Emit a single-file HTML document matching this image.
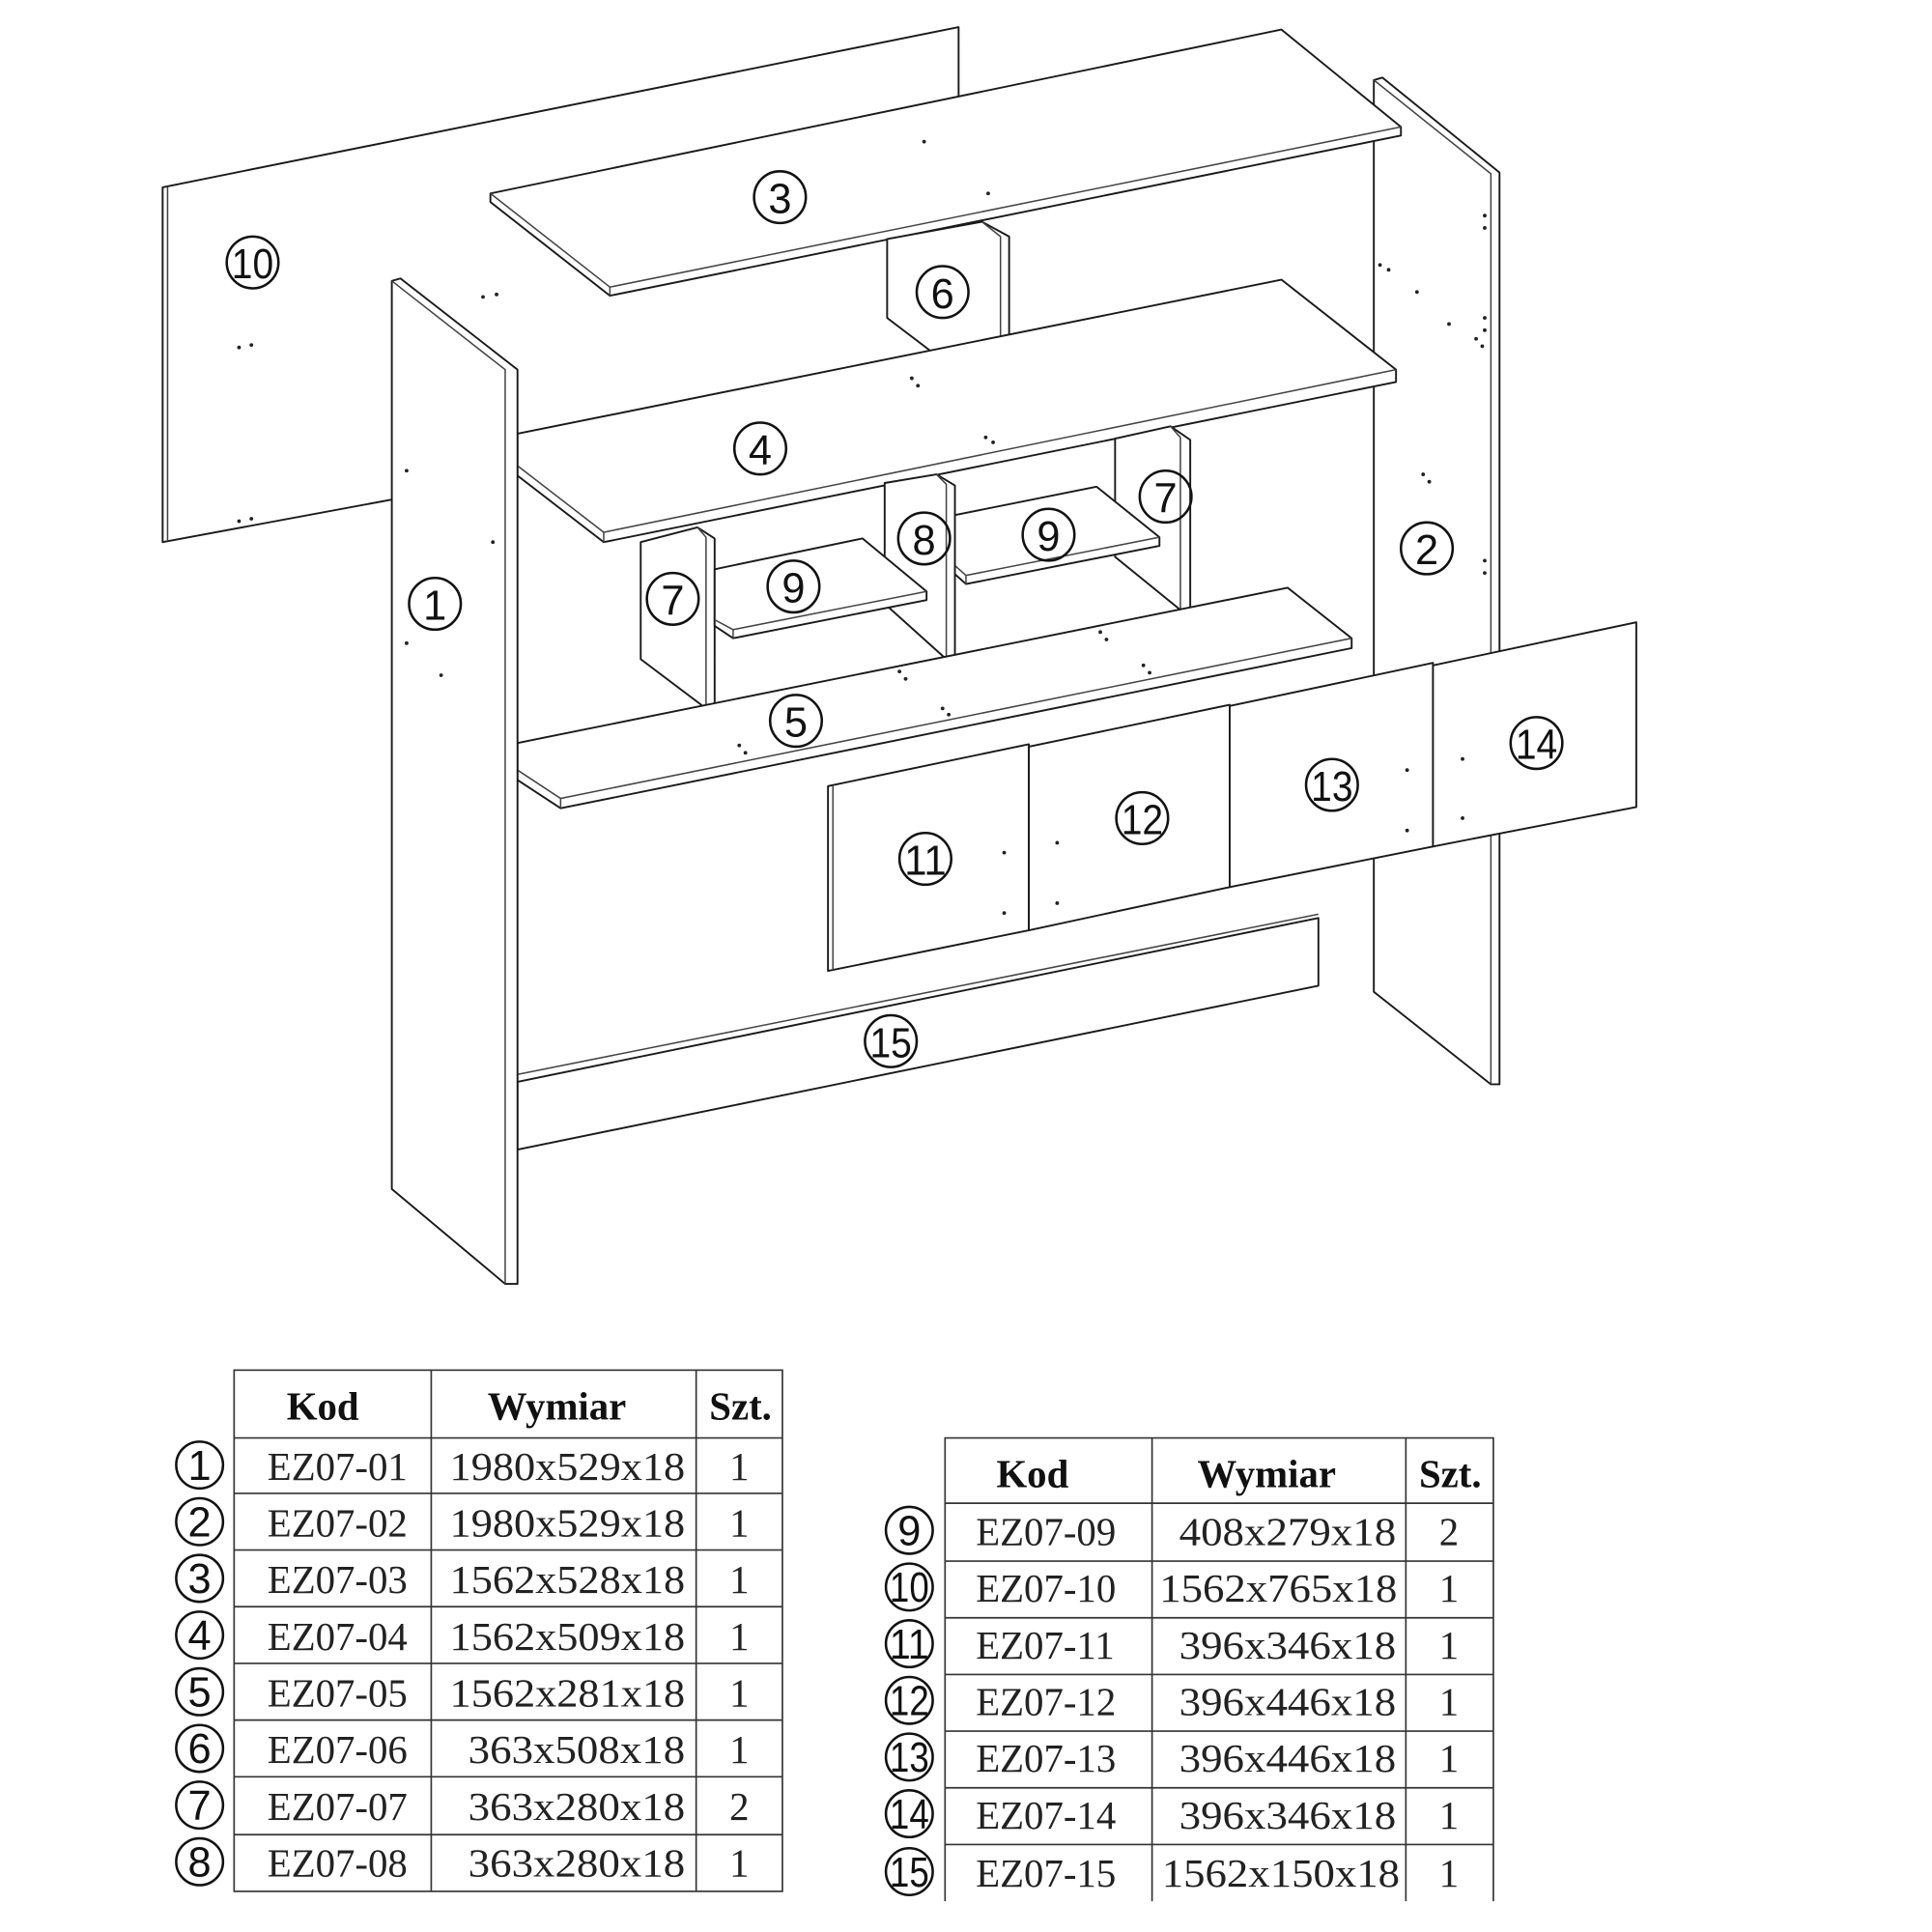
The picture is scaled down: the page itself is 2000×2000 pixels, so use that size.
<!DOCTYPE html>
<html><head><meta charset="utf-8"><style>
html,body{margin:0;padding:0;background:#fff;}
svg{display:block;}
.p{fill:#fff;stroke:#1a1a1a;stroke-width:1.5;stroke-linejoin:round;}
.c{fill:none;stroke:#111;stroke-width:2;}
.n{font-family:"Liberation Sans",sans-serif;font-size:34px;fill:#111;text-anchor:middle;}
.t{font-family:"Liberation Serif",serif;font-size:32px;fill:#222;}
.h{font-family:"Liberation Serif",serif;font-size:32px;font-weight:bold;fill:#111;text-anchor:middle;}
.g{stroke:#444;stroke-width:1.2;fill:none;}
.d{fill:#222;}
</style></head><body>
<svg width="2000" height="2000" viewBox="0 0 1568 1568" preserveAspectRatio="none" xmlns="http://www.w3.org/2000/svg">
<polygon class="p" points="132,152 778,22 778,320 132,440"/>
<line class="g" x1="136" y1="152" x2="136" y2="439"/>
<polygon class="p" points="1115,65 1122,63 1217,140 1217,880 1210,880 1115,805"/>
<polyline class="g" points="1115,65 1210,141 1210,880"/>
<polygon class="p" points="398,157 1040,24 1137,103 1137,110 495,240 398,164"/>
<polyline class="g" points="398,157 495,233 1137,103"/>
<line class="g" x1="495" y1="233" x2="495" y2="240"/>
<polygon class="p" points="720,194 797,180 819,192 819,330 812,328 720,258"/>
<polyline class="g" points="797,180 812,192 812,328"/>
<polygon class="p" points="420,352 1040,227 1133,300 1133,310 490,440 420,386"/>
<polyline class="g" points="420,378 490,432 1133,300"/>
<line class="g" x1="490" y1="432" x2="490" y2="440"/>
<polygon class="p" points="905,356 950,346 966,357 966,495 958,495 905,452"/>
<polyline class="g" points="950,346 958,355 958,495"/>
<polygon class="p" points="775,418 890,395 941,436 941,443 784,474 775,466"/>
<polyline class="g" points="775,459 784,467 941,436"/>
<line class="g" x1="784" y1="467" x2="784" y2="474"/>
<polygon class="p" points="520,440 566,428 580,437 580,575 573,575 520,535"/>
<polyline class="g" points="566,428 573,436 573,575"/>
<polygon class="p" points="718,392 760,385 775,394 775,535 768,535 718,490"/>
<polyline class="g" points="760,385 768,393 768,535"/>
<polygon class="p" points="580,462 700,437 752,480 752,487 595,518 580,508"/>
<polyline class="g" points="580,503 595,511 752,480"/>
<line class="g" x1="595" y1="511" x2="595" y2="518"/>
<polygon class="p" points="420,603 1045,477 1097,518 1097,526 455,656 420,633"/>
<polyline class="g" points="420,625 455,648 1097,518"/>
<line class="g" x1="455" y1="648" x2="455" y2="656"/>
<polygon class="p" points="672,638 835,604 835,755 672,788"/>
<line class="g" x1="676" y1="638" x2="676" y2="787"/>
<polygon class="p" points="835,606 998,572 998,720 835,755"/>
<polygon class="p" points="998,573 1163,538 1163,687 998,720"/>
<polygon class="p" points="1163,540 1328,505 1328,655 1163,687"/>
<polygon class="p" points="420,878 1070,745 1070,800 420,933"/>
<line class="g" x1="420" y1="872" x2="1070" y2="742"/>
<polygon class="p" points="318,228 325,226 420,300 420,1042 410,1042 318,965"/>
<polyline class="g" points="318,228 410,300 410,1042"/>
<g class="d">
<circle cx="194" cy="282" r="1.5"/><circle cx="204" cy="280" r="1.5"/>
<circle cx="194" cy="423" r="1.5"/><circle cx="204" cy="421" r="1.5"/>
<circle cx="392" cy="241" r="1.5"/><circle cx="403" cy="239" r="1.5"/>
<circle cx="330" cy="382" r="1.5"/><circle cx="400" cy="440" r="1.5"/>
<circle cx="330" cy="522" r="1.5"/><circle cx="358" cy="548" r="1.5"/>
<circle cx="750" cy="115" r="1.5"/><circle cx="802" cy="157" r="1.5"/>
<circle cx="740" cy="307" r="1.5"/><circle cx="745" cy="313" r="1.5"/>
<circle cx="800" cy="355" r="1.5"/><circle cx="806" cy="359" r="1.5"/>
<circle cx="730" cy="545" r="1.5"/><circle cx="735" cy="551" r="1.5"/>
<circle cx="765" cy="575" r="1.5"/><circle cx="770" cy="580" r="1.5"/>
<circle cx="600" cy="605" r="1.5"/><circle cx="605" cy="611" r="1.5"/>
<circle cx="893" cy="513" r="1.5"/><circle cx="898" cy="519" r="1.5"/>
<circle cx="928" cy="540" r="1.5"/><circle cx="933" cy="546" r="1.5"/>
<circle cx="815" cy="692" r="1.5"/><circle cx="815" cy="741" r="1.5"/>
<circle cx="858" cy="684" r="1.5"/><circle cx="858" cy="733" r="1.5"/>
<circle cx="1142" cy="625" r="1.5"/><circle cx="1142" cy="674" r="1.5"/>
<circle cx="1187" cy="616" r="1.5"/><circle cx="1187" cy="664" r="1.5"/>
<circle cx="1205" cy="175" r="1.5"/><circle cx="1205" cy="185" r="1.5"/>
<circle cx="1120" cy="215" r="1.5"/><circle cx="1127" cy="219" r="1.5"/>
<circle cx="1150" cy="237" r="1.5"/><circle cx="1176" cy="263" r="1.5"/>
<circle cx="1205" cy="258" r="1.5"/><circle cx="1205" cy="268" r="1.5"/>
<circle cx="1198" cy="275" r="1.5"/><circle cx="1203" cy="281" r="1.5"/>
<circle cx="1155" cy="385" r="1.5"/><circle cx="1160" cy="391" r="1.5"/>
<circle cx="1205" cy="455" r="1.5"/><circle cx="1205" cy="465" r="1.5"/>
</g>
<g>
<circle class="c" cx="205" cy="213" r="21"/><text class="n" x="205" y="226" textLength="34" lengthAdjust="spacingAndGlyphs">10</text>
<circle class="c" cx="633" cy="160" r="21"/><text class="n" x="633" y="173">3</text>
<circle class="c" cx="765" cy="237" r="21"/><text class="n" x="765" y="250">6</text>
<circle class="c" cx="617" cy="364" r="21"/><text class="n" x="617" y="377">4</text>
<circle class="c" cx="353" cy="490" r="21"/><text class="n" x="353" y="503">1</text>
<circle class="c" cx="546" cy="486" r="21"/><text class="n" x="546" y="499">7</text>
<circle class="c" cx="644" cy="476" r="21"/><text class="n" x="644" y="489">9</text>
<circle class="c" cx="750" cy="437" r="21"/><text class="n" x="750" y="450">8</text>
<circle class="c" cx="851" cy="434" r="21"/><text class="n" x="851" y="447">9</text>
<circle class="c" cx="946" cy="403" r="21"/><text class="n" x="946" y="416">7</text>
<circle class="c" cx="1158" cy="445" r="21"/><text class="n" x="1158" y="458">2</text>
<circle class="c" cx="646" cy="585" r="21"/><text class="n" x="646" y="598">5</text>
<circle class="c" cx="751" cy="697" r="21"/><text class="n" x="751" y="710" textLength="34" lengthAdjust="spacingAndGlyphs">11</text>
<circle class="c" cx="927" cy="664" r="21"/><text class="n" x="927" y="677" textLength="34" lengthAdjust="spacingAndGlyphs">12</text>
<circle class="c" cx="1081" cy="637" r="21"/><text class="n" x="1081" y="650" textLength="34" lengthAdjust="spacingAndGlyphs">13</text>
<circle class="c" cx="1247" cy="603" r="21"/><text class="n" x="1247" y="616" textLength="34" lengthAdjust="spacingAndGlyphs">14</text>
<circle class="c" cx="723" cy="845" r="21"/><text class="n" x="723" y="858" textLength="34" lengthAdjust="spacingAndGlyphs">15</text>
</g>
<g stroke="#333" stroke-width="1.3" fill="none">
<rect x="190" y="1112" width="445" height="423"/>
<line x1="350" y1="1112" x2="350" y2="1535"/><line x1="565" y1="1112" x2="565" y2="1535"/>
<line x1="190" y1="1167" x2="635" y2="1167"/><line x1="190" y1="1212" x2="635" y2="1212"/>
<line x1="190" y1="1258" x2="635" y2="1258"/><line x1="190" y1="1304" x2="635" y2="1304"/>
<line x1="190" y1="1350" x2="635" y2="1350"/><line x1="190" y1="1396" x2="635" y2="1396"/>
<line x1="190" y1="1442" x2="635" y2="1442"/><line x1="190" y1="1489" x2="635" y2="1489"/>
</g>
<text class="h" x="262" y="1152">Kod</text><text class="h" x="452" y="1152">Wymiar</text><text class="h" x="601" y="1152">Szt.</text>
<g stroke="#333" stroke-width="1.3" fill="none">
<polyline points="767,1543 767,1167 1212,1167 1212,1543"/>
<line x1="935" y1="1167" x2="935" y2="1543"/><line x1="1141" y1="1167" x2="1141" y2="1543"/>
<line x1="767" y1="1220" x2="1212" y2="1220"/><line x1="767" y1="1267" x2="1212" y2="1267"/>
<line x1="767" y1="1313" x2="1212" y2="1313"/><line x1="767" y1="1359" x2="1212" y2="1359"/>
<line x1="767" y1="1405" x2="1212" y2="1405"/><line x1="767" y1="1451" x2="1212" y2="1451"/>
<line x1="767" y1="1497" x2="1212" y2="1497"/>
</g>
<text class="h" x="838" y="1207">Kod</text><text class="h" x="1028" y="1207">Wymiar</text><text class="h" x="1177" y="1207">Szt.</text>
<g class="t">
<text x="217" y="1201">EZ07-01</text><text x="365" y="1201" textLength="191" lengthAdjust="spacingAndGlyphs">1980x529x18</text><text x="592" y="1201">1</text>
<text x="217" y="1247">EZ07-02</text><text x="365" y="1247" textLength="191" lengthAdjust="spacingAndGlyphs">1980x529x18</text><text x="592" y="1247">1</text>
<text x="217" y="1293">EZ07-03</text><text x="365" y="1293" textLength="191" lengthAdjust="spacingAndGlyphs">1562x528x18</text><text x="592" y="1293">1</text>
<text x="217" y="1339">EZ07-04</text><text x="365" y="1339" textLength="191" lengthAdjust="spacingAndGlyphs">1562x509x18</text><text x="592" y="1339">1</text>
<text x="217" y="1385">EZ07-05</text><text x="365" y="1385" textLength="191" lengthAdjust="spacingAndGlyphs">1562x281x18</text><text x="592" y="1385">1</text>
<text x="217" y="1431">EZ07-06</text><text x="380" y="1431" textLength="176" lengthAdjust="spacingAndGlyphs">363x508x18</text><text x="592" y="1431">1</text>
<text x="217" y="1477">EZ07-07</text><text x="380" y="1477" textLength="176" lengthAdjust="spacingAndGlyphs">363x280x18</text><text x="592" y="1477">2</text>
<text x="217" y="1523">EZ07-08</text><text x="380" y="1523" textLength="176" lengthAdjust="spacingAndGlyphs">363x280x18</text><text x="592" y="1523">1</text>
<text x="792" y="1254">EZ07-09</text><text x="957" y="1254" textLength="176" lengthAdjust="spacingAndGlyphs">408x279x18</text><text x="1168" y="1254">2</text>
<text x="792" y="1300">EZ07-10</text><text x="941" y="1300" textLength="193" lengthAdjust="spacingAndGlyphs">1562x765x18</text><text x="1168" y="1300">1</text>
<text x="792" y="1346">EZ07-11</text><text x="957" y="1346" textLength="176" lengthAdjust="spacingAndGlyphs">396x346x18</text><text x="1168" y="1346">1</text>
<text x="792" y="1392">EZ07-12</text><text x="957" y="1392" textLength="176" lengthAdjust="spacingAndGlyphs">396x446x18</text><text x="1168" y="1392">1</text>
<text x="792" y="1438">EZ07-13</text><text x="957" y="1438" textLength="176" lengthAdjust="spacingAndGlyphs">396x446x18</text><text x="1168" y="1438">1</text>
<text x="792" y="1484">EZ07-14</text><text x="957" y="1484" textLength="176" lengthAdjust="spacingAndGlyphs">396x346x18</text><text x="1168" y="1484">1</text>
<text x="792" y="1531">EZ07-15</text><text x="943" y="1531" textLength="193" lengthAdjust="spacingAndGlyphs">1562x150x18</text><text x="1168" y="1531">1</text>
</g>
<g>
<circle class="c" cx="162" cy="1189" r="19"/><text class="n" x="162" y="1201">1</text>
<circle class="c" cx="162" cy="1235" r="19"/><text class="n" x="162" y="1247">2</text>
<circle class="c" cx="162" cy="1281" r="19"/><text class="n" x="162" y="1293">3</text>
<circle class="c" cx="162" cy="1327" r="19"/><text class="n" x="162" y="1339">4</text>
<circle class="c" cx="162" cy="1373" r="19"/><text class="n" x="162" y="1385">5</text>
<circle class="c" cx="162" cy="1419" r="19"/><text class="n" x="162" y="1431">6</text>
<circle class="c" cx="162" cy="1465" r="19"/><text class="n" x="162" y="1477">7</text>
<circle class="c" cx="162" cy="1511" r="19"/><text class="n" x="162" y="1523">8</text>
<circle class="c" cx="738" cy="1242" r="19"/><text class="n" x="738" y="1254">9</text>
<circle class="c" cx="738" cy="1288" r="19"/><text class="n" x="738" y="1300" textLength="32" lengthAdjust="spacingAndGlyphs">10</text>
<circle class="c" cx="738" cy="1334" r="19"/><text class="n" x="738" y="1346" textLength="32" lengthAdjust="spacingAndGlyphs">11</text>
<circle class="c" cx="738" cy="1380" r="19"/><text class="n" x="738" y="1392" textLength="32" lengthAdjust="spacingAndGlyphs">12</text>
<circle class="c" cx="738" cy="1426" r="19"/><text class="n" x="738" y="1438" textLength="32" lengthAdjust="spacingAndGlyphs">13</text>
<circle class="c" cx="738" cy="1472" r="19"/><text class="n" x="738" y="1484" textLength="32" lengthAdjust="spacingAndGlyphs">14</text>
<circle class="c" cx="738" cy="1519" r="19"/><text class="n" x="738" y="1531" textLength="32" lengthAdjust="spacingAndGlyphs">15</text>
</g>
</svg>
</body></html>
